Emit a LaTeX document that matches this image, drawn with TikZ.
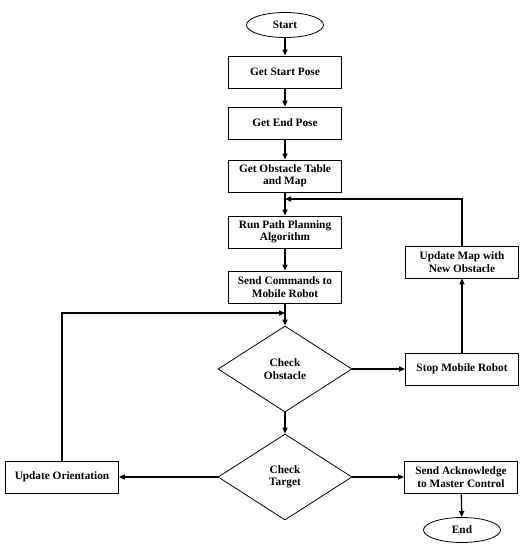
\documentclass[tikz,border=0pt]{standalone}
\usepackage{fontspec}
\setmainfont{Liberation Serif}
\usepackage{tikz}
\usetikzlibrary{shapes.geometric,arrows.meta}
\tikzset{
  base/.style={draw=black, line width=0.8pt, align=center, inner sep=1pt,
    font=\fontsize{11.3}{12.5}\selectfont\bfseries},
  stepbox/.style={base, rectangle, minimum width=113pt, minimum height=32pt},
  term/.style={base, ellipse, minimum width=77pt, minimum height=25pt},
  choice/.style={base, diamond, minimum width=134pt, minimum height=86pt, inner sep=0pt},
  flow/.style={draw=black, line width=1.3pt, -{Triangle[length=6pt,width=5pt]}},
}
\begin{document}
\begin{tikzpicture}[x=1pt,y=-1pt]
  \useasboundingbox (0,0) rectangle (526,550);

  % main column
  \node[term]     (start) at (285,25)  {Start};
  \node[stepbox]  (gsp)   at (285,72)  {Get Start Pose};
  \node[stepbox]  (gep)   at (285,123) {Get End Pose};
  \node[stepbox]  (got)   at (285,176) {Get Obstacle Table\\and Map};
  \node[stepbox]  (run)   at (285,232) {Run Path Planning\\Algorithm};
  \node[stepbox]  (cmd)   at (285,287) {Send Commands to\\Mobile Robot};
  \node[choice]   (chkO)  at (285,369) {Check\\Obstacle};
  \node[choice]   (chkT)  at (285,477) {Check\\Target};

  % side boxes
  \node[stepbox]  (stop)  at (462,369) {Stop Mobile Robot};
  \node[stepbox]  (upd)   at (462,262) {Update Map with\\New Obstacle};
  \node[stepbox]  (ori)   at (62,477)  {Update Orientation};
  \node[stepbox]  (ack)   at (461,477) {Send Acknowledge\\to Master Control};
  \node[term]     (end)   at (462,530) {End};

  % joins
  \coordinate (j1) at (285,199);
  \coordinate (j2) at (285,313);

  \draw[flow] (start) -- (gsp);
  \draw[flow] (gsp) -- (gep);
  \draw[flow] (gep) -- (got);
  \draw[flow] (got) -- (run);
  \draw[flow] (run) -- (cmd);
  \draw[flow] (cmd) -- (chkO);
  \draw[flow] (chkO) -- (stop);
  \draw[flow] (stop) -- (upd);
  \draw[flow] (upd.north) |- (j1);
  \draw[flow] (chkO) -- (chkT);
  \draw[flow] (chkT) -- (ori);
  \draw[flow] (chkT) -- (ack);
  \draw[flow] (ack) -- (end);
  \draw[flow] (ori.north) |- (j2);
\end{tikzpicture}
\end{document}
